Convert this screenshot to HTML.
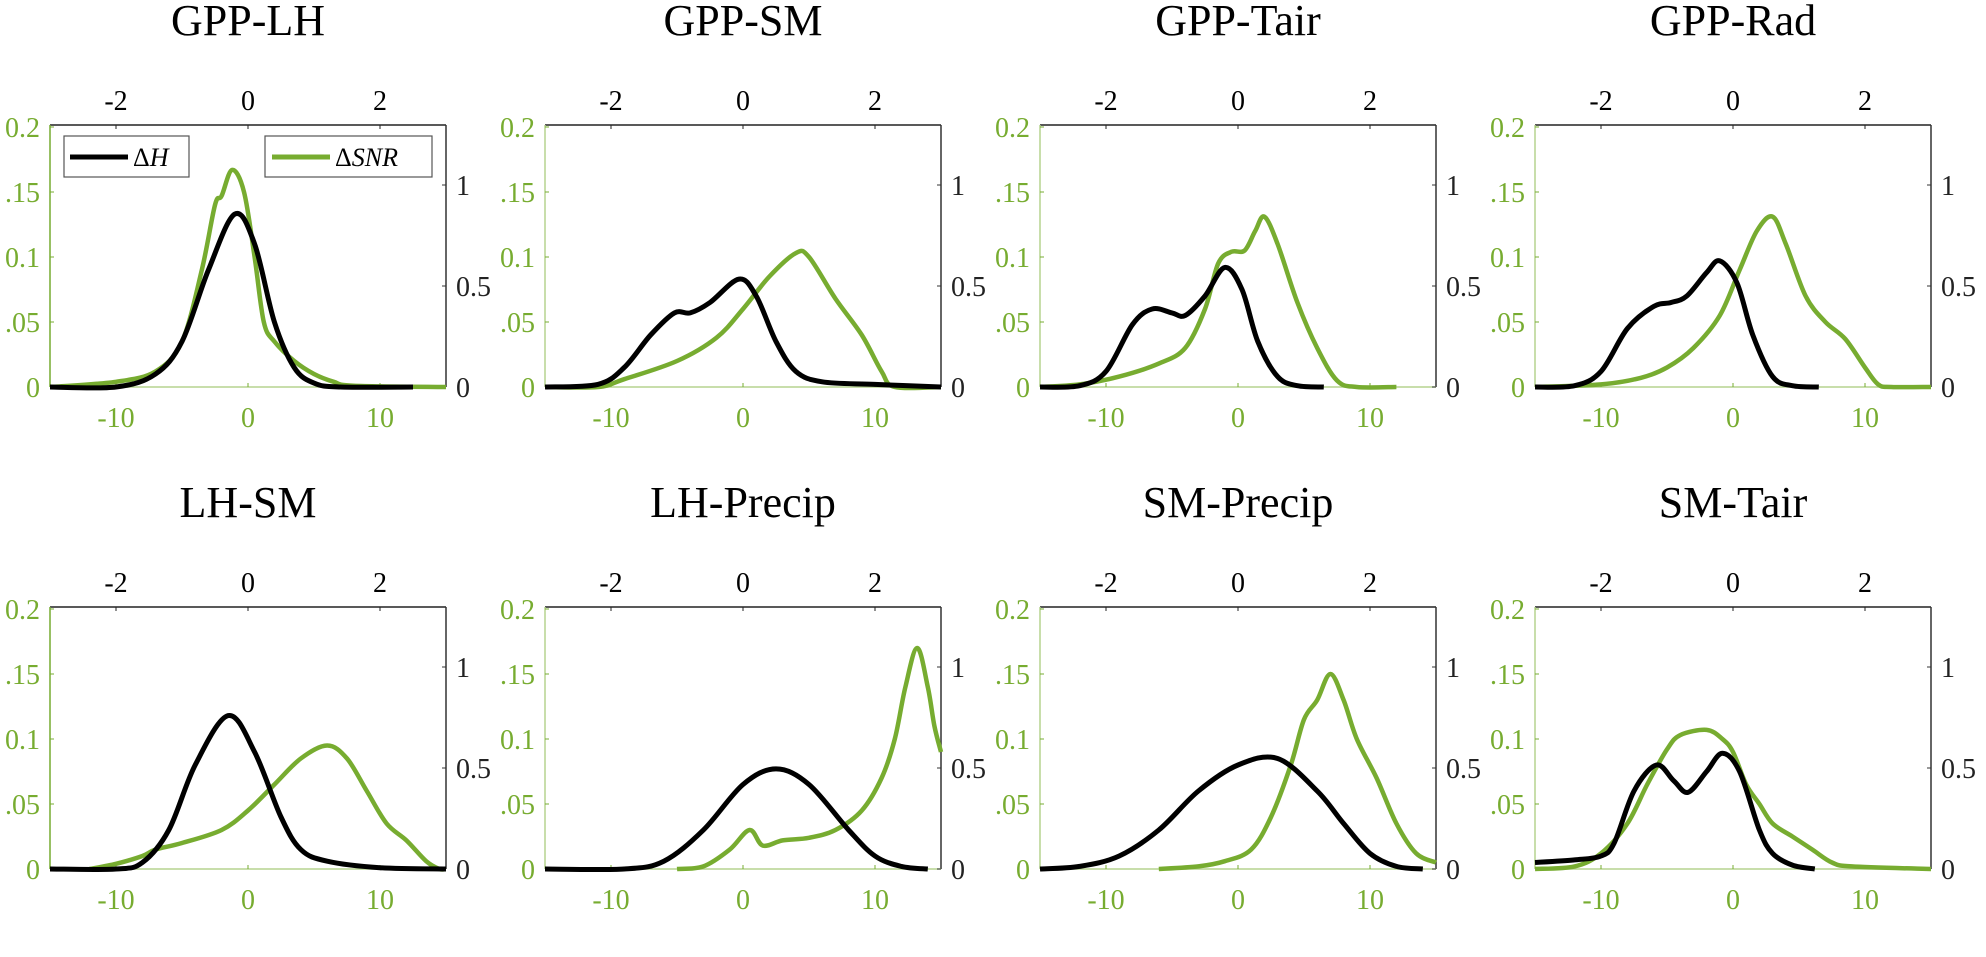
<!DOCTYPE html>
<html><head><meta charset="utf-8"><style>
html,body{margin:0;padding:0;background:#fff;width:1986px;height:957px;overflow:hidden}
svg text{font-family:"Liberation Serif",serif}
</style></head><body>
<svg id="s" width="1986" height="957" xmlns="http://www.w3.org/2000/svg"></svg>
<script>
const G="#77ac30";
const panels=[
 ["GPP-LH",[[-15,0],[-10,0.004],[-7,0.012],[-5,0.035],[-3.5,0.09],[-2.5,0.14],[-2,0.147],[-1.2,0.167],[-0.3,0.15],[0.5,0.1],[1.2,0.05],[2,0.035],[3.5,0.02],[5,0.01],[6.5,0.004],[8,0.001],[15,0]],
  [[-15,0],[-10,0],[-7,0.01],[-5,0.035],[-3,0.09],[-1,0.133],[0.5,0.11],[2,0.05],[3.5,0.015],[5,0.003],[7,0],[12.5,0]]],
 ["GPP-SM",[[-15,0],[-11,0],[-9,0.006],[-5,0.02],[-2,0.038],[0,0.06],[2,0.085],[4,0.103],[5,0.1],[7,0.068],[9,0.04],[10.5,0.012],[11.5,0],[15,0]],
  [[-15,0],[-11,0.002],[-9,0.015],[-7,0.04],[-5.2,0.057],[-4,0.057],[-2.5,0.065],[-0.3,0.083],[1,0.07],[2.5,0.035],[4,0.012],[6,0.004],[10,0.002],[15,0]]],
 ["GPP-Tair",[[-15,0],[-12,0.002],[-9,0.008],[-6,0.018],[-4,0.03],[-2.5,0.06],[-1.5,0.095],[-0.5,0.104],[0.5,0.105],[1.3,0.12],[2,0.131],[3,0.11],[4.5,0.065],[6,0.03],[7.5,0.005],[9,0],[12,0]],
  [[-15,0],[-12,0.001],[-10,0.012],[-8,0.048],[-6.5,0.06],[-5,0.057],[-4,0.055],[-2.5,0.07],[-1,0.092],[0.3,0.075],[1.5,0.035],[3,0.008],[4.5,0.001],[6.5,0]]],
 ["GPP-Rad",[[-15,0],[-10,0.002],[-7,0.007],[-5,0.015],[-3,0.03],[-1,0.055],[0.5,0.09],[1.8,0.12],[3,0.131],[4,0.11],[5.5,0.07],[7,0.05],[8.5,0.037],[10,0.015],[11,0.002],[12,0],[15,0]],
  [[-15,0],[-12,0.001],[-10,0.012],[-8,0.045],[-6,0.062],[-4.7,0.065],[-3.5,0.07],[-2,0.088],[-1,0.097],[0.3,0.08],[1.5,0.04],[3,0.008],[4.5,0.001],[6.5,0]]],
 ["LH-SM",[[-12,0],[-10,0.004],[-8,0.01],[-7,0.015],[-5,0.02],[-2,0.03],[0,0.045],[2,0.065],[4,0.085],[6,0.095],[7.5,0.085],[9,0.06],[10.5,0.035],[12,0.022],[13.5,0.006],[14.5,0],[15,0]],
  [[-15,0],[-10,0],[-8,0.005],[-6,0.03],[-4,0.08],[-1.5,0.118],[0.5,0.09],[2.5,0.04],[4,0.015],[6,0.006],[10,0.001],[15,0]]],
 ["LH-Precip",[[-5,0],[-3,0.002],[-1,0.015],[0.5,0.03],[1.5,0.018],[3,0.022],[5,0.024],[7,0.03],[9,0.045],[10.5,0.07],[11.5,0.1],[12.3,0.14],[13.2,0.17],[14,0.14],[14.5,0.11],[15,0.09]],
  [[-15,0],[-9,0],[-6,0.006],[-3,0.03],[0,0.065],[2.5,0.077],[5,0.065],[8,0.03],[10,0.01],[12,0.002],[14,0]]],
 ["SM-Precip",[[-6,0],[-3,0.002],[-1,0.006],[1,0.015],[2.5,0.04],[4,0.08],[5,0.115],[6,0.13],[7,0.15],[8,0.13],[9,0.1],[10.5,0.07],[12,0.035],[13.5,0.012],[15,0.005]],
  [[-15,0],[-12,0.002],[-9,0.01],[-6,0.03],[-3,0.06],[0,0.08],[3,0.085],[6,0.06],[8,0.035],[10,0.012],[12,0.002],[14,0]]],
 ["SM-Tair",[[-15,0],[-12,0.002],[-10,0.012],[-8,0.035],[-6.5,0.065],[-5,0.092],[-4,0.103],[-2,0.107],[-0.8,0.1],[0,0.09],[1,0.065],[2,0.05],[3,0.035],[4.5,0.025],[6,0.015],[7.5,0.005],[9,0.002],[15,0]],
  [[-15,0.005],[-12,0.007],[-10,0.01],[-9,0.02],[-7.5,0.06],[-5.8,0.08],[-4.5,0.068],[-3.4,0.059],[-2,0.075],[-0.8,0.089],[0.5,0.075],[2,0.03],[3,0.012],[4.5,0.003],[6.2,0]]]
];
function cr(pts){let d="M"+pts[0][0].toFixed(1)+","+pts[0][1].toFixed(1);
 for(let i=0;i<pts.length-1;i++){const p0=pts[i-1]||pts[i],p1=pts[i],p2=pts[i+1],p3=pts[i+2]||p2;
  const c1=[p1[0]+(p2[0]-p0[0])/6,p1[1]+(p2[1]-p0[1])/6],c2=[p2[0]-(p3[0]-p1[0])/6,p2[1]-(p3[1]-p1[1])/6];
  d+=`C${c1[0].toFixed(1)},${c1[1].toFixed(1)} ${c2[0].toFixed(1)},${c2[1].toFixed(1)} ${p2[0].toFixed(1)},${p2[1].toFixed(1)}`;}
 return d;}
let h="";
panels.forEach((p,i)=>{
 const L=50+495*(i%4), T=125+482*Math.floor(i/4), W=396, B=T+262;
 const X=v=>L+(v+15)/30*W, Y=v=>B-v*1300, R=v=>B-v*202;
 h+=`<text x="${L+W/2}" y="${T-90}" font-size="44" text-anchor="middle">${p[0]}</text>`;
 h+=`<line x1="${L}" y1="${T}" x2="${L+W}" y2="${T}" stroke="#222" stroke-width="1.5"/>`;
 h+=`<line x1="${L+W}" y1="${T}" x2="${L+W}" y2="${B}" stroke="#333" stroke-width="1.5"/>`;
 h+=`<line x1="${L}" y1="${B}" x2="${L+W}" y2="${B}" stroke="#b5d38f" stroke-width="1.5"/>`;
 h+=`<line x1="${L}" y1="${T}" x2="${L}" y2="${B}" stroke="${i%4==0?G:'#b5d38f'}" stroke-width="1.5"/>`;
 [-2,0,2].forEach(t=>{const x=L+(t+3)/6*W;h+=`<line x1="${x}" y1="${T}" x2="${x}" y2="${T+4}" stroke="#222"/><text x="${x}" y="${T-15}" font-size="28" text-anchor="middle">${t}</text>`;});
 [-10,0,10].forEach(t=>{const x=X(t);h+=`<line x1="${x}" y1="${B}" x2="${x}" y2="${B-4}" stroke="${G}"/><text x="${x}" y="${B+40}" font-size="28" fill="${G}" text-anchor="middle">${t}</text>`;});
 [["0",0],[".05",.05],["0.1",.1],[".15",.15],["0.2",.2]].forEach(([s,v])=>{const y=Y(v);h+=`<line x1="${L}" y1="${y}" x2="${L+4}" y2="${y}" stroke="${G}"/><text x="${L-10}" y="${y+10}" font-size="28" fill="${G}" text-anchor="end">${s}</text>`;});
 [["0",0],["0.5",.5],["1",1]].forEach(([s,v])=>{const y=R(v);h+=`<line x1="${L+W}" y1="${y}" x2="${L+W-4}" y2="${y}" stroke="#333"/><text x="${L+W+10}" y="${y+10}" font-size="28" fill="#222">${s}</text>`;});
 h+=`<path d="${cr(p[1].map(q=>[X(q[0]),Y(q[1])]))}" fill="none" stroke="${G}" stroke-width="4.5" stroke-linejoin="round"/>`;
 h+=`<path d="${cr(p[2].map(q=>[X(q[0]),Y(q[1])]))}" fill="none" stroke="#000" stroke-width="5" stroke-linejoin="round"/>`;
});
h+=`<rect x="64" y="136" width="125" height="41" fill="#fff" stroke="#555" stroke-width="1.2"/><line x1="70" y1="157" x2="128" y2="157" stroke="#000" stroke-width="5"/><text x="133" y="166" font-size="26">Δ<tspan font-style="italic">H</tspan></text>`;
h+=`<rect x="265" y="136" width="167" height="41" fill="#fff" stroke="#555" stroke-width="1.2"/><line x1="272" y1="157" x2="330" y2="157" stroke="${G}" stroke-width="5"/><text x="335" y="166" font-size="26">Δ<tspan font-style="italic">SNR</tspan></text>`;
document.getElementById("s").innerHTML=h;
</script>
</body></html>
